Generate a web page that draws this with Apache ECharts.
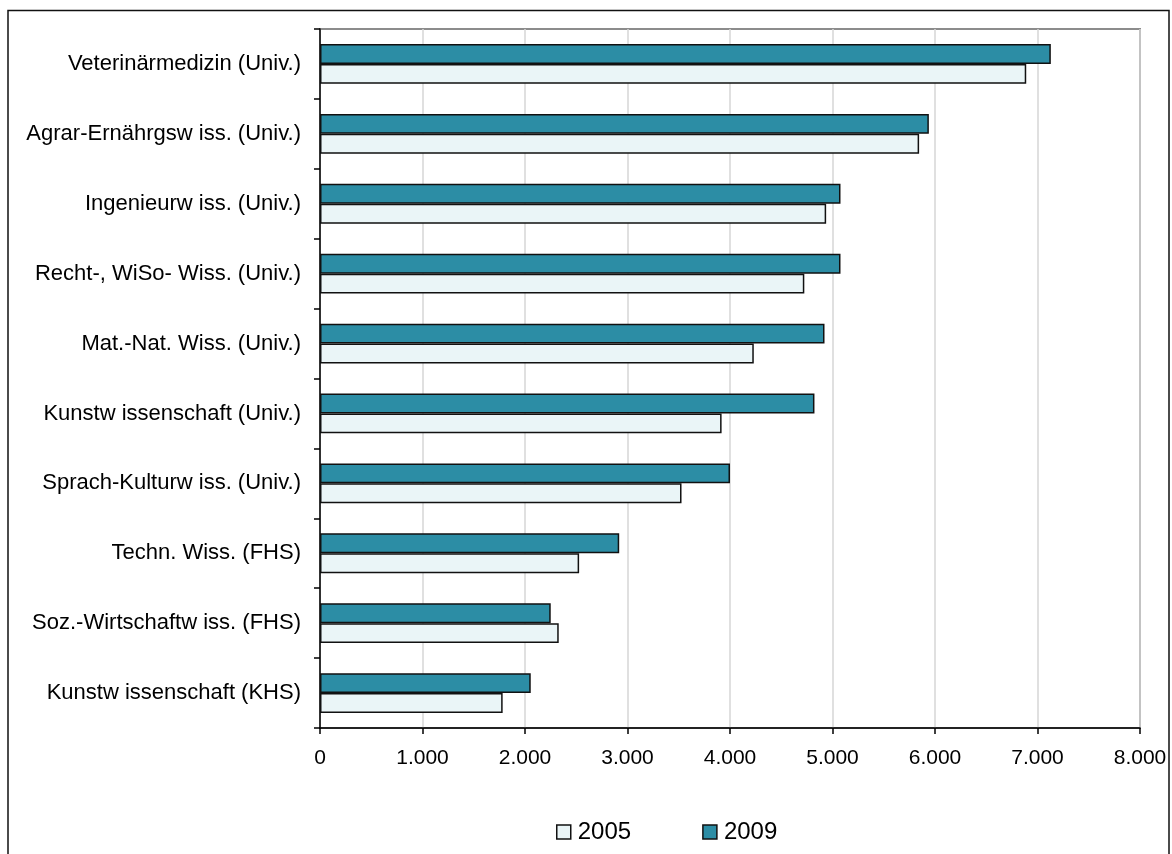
<!DOCTYPE html>
<html>
<head>
<meta charset="utf-8">
<script src="https://cdn.jsdelivr.net/npm/echarts@6/dist/echarts.min.js"></script>
<style>
html,body{margin:0;padding:0;background:#fff;}
#chart{width:1172px;height:854px;}
</style>
</head>
<body>
<div id="chart"></div>
<script>
var categories = [
  'Veterinärmedizin (Univ.)',
  'Agrar-Ernährgsw iss. (Univ.)',
  'Ingenieurw iss. (Univ.)',
  'Recht-, WiSo- Wiss. (Univ.)',
  'Mat.-Nat. Wiss. (Univ.)',
  'Kunstw issenschaft (Univ.)',
  'Sprach-Kulturw iss. (Univ.)',
  'Techn. Wiss. (FHS)',
  'Soz.-Wirtschaftw iss. (FHS)',
  'Kunstw issenschaft (KHS)'
];
var values2005 = [6890, 5845, 4938, 4725, 4232, 3918, 3527, 2528, 2329, 1782];
var values2009 = [7130, 5940, 5078, 5078, 4922, 4824, 4000, 2919, 2251, 2056];
var seriesNames = ['2005', '2009'];
var xTickLabels = ['0', '1.000', '2.000', '3.000', '4.000', '5.000', '6.000', '7.000', '8.000'];

var font = '"Liberation Sans", Arial, sans-serif';
var chart = echarts.init(document.getElementById('chart'), null, {renderer: 'canvas'});
chart.setOption({
  animation: false,
  backgroundColor: '#ffffff',
  graphic: [{
    type: 'rect',
    shape: {x: 8, y: 10.5, width: 1161, height: 900},
    style: {fill: 'none', stroke: '#111', lineWidth: 1.5},
    silent: true,
    z: 100
  }],
  grid: {
    left: 320, right: 32, top: 29, bottom: 126,
    show: true, borderColor: '#8c8c8c', borderWidth: 2, backgroundColor: '#fff'
  },
  legend: {
    data: seriesNames,
    left: 551, top: 815,
    itemWidth: 14, itemHeight: 14, itemGap: 71,
    icon: 'rect',
    textStyle: {fontFamily: font, fontSize: 24, color: '#000', padding: [0, 0, 0, 2]},
    itemStyle: {borderColor: '#111', borderWidth: 1.5}
  },
  xAxis: {
    type: 'value', min: 0, max: 8000, interval: 1000,
    axisLine: {show: true, lineStyle: {color: '#000', width: 1.5}},
    axisTick: {show: true, length: 6, lineStyle: {color: '#000', width: 1.5}},
    axisLabel: {
      margin: 20, fontFamily: font, fontSize: 21, color: '#000',
      formatter: function (v) { return xTickLabels[Math.round(v / 1000)]; }
    },
    splitLine: {show: true, lineStyle: {color: '#d6d6d6', width: 1.5}}
  },
  yAxis: {
    type: 'category', data: categories, inverse: true,
    axisLine: {show: true, lineStyle: {color: '#000', width: 1.5}},
    axisTick: {show: true, length: 6, lineStyle: {color: '#000', width: 1.5}},
    axisLabel: {margin: 19, fontFamily: font, fontSize: 22, color: '#000'},
    splitLine: {show: false}
  },
  series: [{
    name: seriesNames[1], type: 'bar', data: values2009,
    barGap: '0%', barCategoryGap: '43%',
    itemStyle: {color: '#2c8da5', borderColor: '#111', borderWidth: 1.5}
  }, {
    name: seriesNames[0], type: 'bar', data: values2005,
    barGap: '0%', barCategoryGap: '43%',
    itemStyle: {color: '#eaf5f7', borderColor: '#111', borderWidth: 1.5}
  }]
});
</script>
</body>
</html>
